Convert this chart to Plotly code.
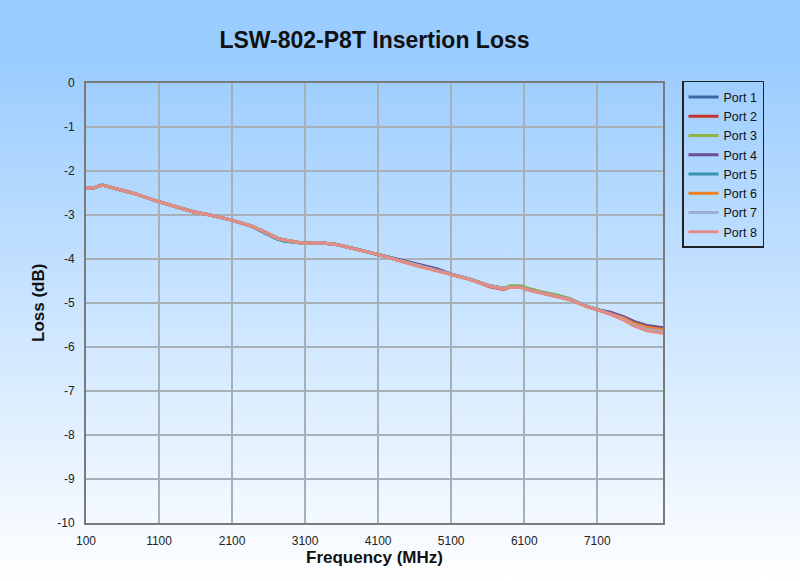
import base64
import plotly.graph_objects as go

# ---- data ----
FREQ = [100, 210, 320, 500, 760, 1100, 1400, 1580, 1800, 2080, 2360, 2540, 2720, 2810,
        3080, 3300, 3530, 3810, 4080, 4360, 4630, 4900, 5130, 5360, 5630, 5820, 5910,
        6050, 6140, 6320, 6550, 6730, 6910, 7100, 7280, 7460, 7600, 7780, 8000]

PORT_1 = [-2.39, -2.38, -2.32, -2.40, -2.51, -2.70, -2.84, -2.93, -3.00, -3.11, -3.25, -3.40, -3.55, -3.59,
          -3.64, -3.63, -3.67, -3.78, -3.89, -4.00, -4.12, -4.23, -4.36, -4.46, -4.61, -4.67, -4.64,
          -4.64, -4.69, -4.76, -4.84, -4.92, -5.05, -5.15, -5.22, -5.32, -5.43, -5.52, -5.57]
PORT_2 = [-2.39, -2.38, -2.32, -2.40, -2.51, -2.70, -2.84, -2.93, -3.00, -3.11, -3.25, -3.38, -3.53, -3.57,
          -3.64, -3.63, -3.67, -3.78, -3.89, -4.02, -4.14, -4.25, -4.36, -4.46, -4.63, -4.69, -4.64,
          -4.64, -4.69, -4.76, -4.84, -4.92, -5.05, -5.15, -5.23, -5.33, -5.45, -5.54, -5.58]
PORT_3 = [-2.39, -2.38, -2.32, -2.40, -2.51, -2.70, -2.84, -2.93, -3.00, -3.11, -3.25, -3.37, -3.52, -3.56,
          -3.64, -3.63, -3.67, -3.78, -3.89, -4.02, -4.14, -4.25, -4.36, -4.46, -4.61, -4.67, -4.61,
          -4.61, -4.66, -4.74, -4.82, -4.90, -5.05, -5.15, -5.23, -5.34, -5.47, -5.56, -5.61]
PORT_4 = [-2.39, -2.38, -2.32, -2.40, -2.51, -2.70, -2.84, -2.93, -3.00, -3.11, -3.25, -3.38, -3.53, -3.57,
          -3.64, -3.63, -3.67, -3.78, -3.89, -3.99, -4.11, -4.22, -4.36, -4.46, -4.61, -4.67, -4.64,
          -4.64, -4.69, -4.76, -4.84, -4.92, -5.05, -5.15, -5.21, -5.31, -5.42, -5.51, -5.56]
PORT_5 = [-2.39, -2.38, -2.32, -2.40, -2.51, -2.70, -2.84, -2.93, -3.00, -3.11, -3.25, -3.40, -3.55, -3.59,
          -3.64, -3.63, -3.67, -3.78, -3.89, -4.02, -4.14, -4.25, -4.36, -4.46, -4.61, -4.67, -4.64,
          -4.64, -4.69, -4.76, -4.84, -4.92, -5.05, -5.15, -5.24, -5.35, -5.48, -5.57, -5.62]
PORT_6 = [-2.39, -2.38, -2.32, -2.40, -2.51, -2.70, -2.84, -2.93, -3.00, -3.11, -3.25, -3.38, -3.53, -3.57,
          -3.64, -3.63, -3.67, -3.78, -3.89, -4.02, -4.14, -4.25, -4.36, -4.46, -4.61, -4.67, -4.64,
          -4.64, -4.69, -4.76, -4.84, -4.92, -5.05, -5.15, -5.23, -5.34, -5.46, -5.55, -5.60]
PORT_7 = [-2.39, -2.38, -2.32, -2.40, -2.51, -2.70, -2.84, -2.93, -3.00, -3.11, -3.25, -3.38, -3.53, -3.57,
          -3.64, -3.63, -3.67, -3.78, -3.89, -4.02, -4.14, -4.25, -4.36, -4.46, -4.61, -4.67, -4.64,
          -4.64, -4.69, -4.76, -4.84, -4.92, -5.05, -5.15, -5.25, -5.37, -5.50, -5.60, -5.65]
PORT_8 = [-2.39, -2.38, -2.32, -2.40, -2.51, -2.70, -2.84, -2.93, -3.00, -3.11, -3.25, -3.38, -3.53, -3.57,
          -3.64, -3.63, -3.67, -3.78, -3.89, -4.03, -4.16, -4.27, -4.37, -4.47, -4.62, -4.68, -4.65,
          -4.65, -4.70, -4.77, -4.85, -4.93, -5.06, -5.16, -5.26, -5.39, -5.52, -5.63, -5.69]

SERIES_NAMES = ["Port 1", "Port 2", "Port 3", "Port 4", "Port 5", "Port 6", "Port 7", "Port 8"]
SERIES_VALUES = [PORT_1, PORT_2, PORT_3, PORT_4, PORT_5, PORT_6, PORT_7, PORT_8]
COLORS = ["#3c67a3", "#c8322c", "#8fb244", "#6b4d96", "#3596ad", "#f07d22", "#98b0d4", "#e38c84"]

X_TICKS = [100, 1100, 2100, 3100, 4100, 5100, 6100, 7100]
Y_TICKS = [0, -1, -2, -3, -4, -5, -6, -7, -8, -9, -10]

# ---- figure ----
FONT = "Liberation Sans, Arial, sans-serif"
fig = go.Figure()
for name, vals, col in zip(SERIES_NAMES, SERIES_VALUES, COLORS):
    fig.add_trace(go.Scatter(x=FREQ, y=vals, name=name, mode="lines",
                             line=dict(color=col, width=3)))

svg = ("<svg xmlns='http://www.w3.org/2000/svg' width='800' height='581' preserveAspectRatio='none'>"
       "<defs><linearGradient id='g' x1='0' y1='0' x2='0' y2='1'>"
       "<stop offset='0' stop-color='#99CCFF'/><stop offset='0.1' stop-color='#9ACCFF'/>"
       "<stop offset='1' stop-color='#FFFFFF'/></linearGradient></defs>"
       "<rect width='800' height='581' fill='url(#g)'/></svg>")
src = "data:image/svg+xml;base64," + base64.b64encode(svg.encode()).decode()

L, R, T, B = 86, 137, 83, 58
PW, PH = 800 - L - R, 581 - T - B

fig.update_layout(
    width=800, height=581,
    margin=dict(l=L, r=R, t=T, b=B),
    paper_bgcolor="white",
    plot_bgcolor="rgba(0,0,0,0)",
    font=dict(family=FONT, size=12, color="#222222"),
    images=[dict(source=src, xref="paper", yref="paper",
                 x=-L / PW, y=1 + T / PH, sizex=800 / PW, sizey=581 / PH,
                 xanchor="left", yanchor="top", sizing="stretch", layer="below")],
    title=dict(text="<b>LSW-802-P8T Insertion Loss</b>", x=0.5, xref="paper",
               y=1 - 40 / 581, yref="container", yanchor="middle",
               font=dict(family=FONT, size=23, color="#111111")),
    showlegend=True,
    legend=dict(x=(682 - L) / PW, y=1.005, xanchor="left", yanchor="top",
                bgcolor="rgba(0,0,0,0)", bordercolor="#222222", borderwidth=1.5,
                font=dict(family=FONT, size=12.5, color="#111111"),
                itemwidth=30, tracegroupgap=0),
    xaxis=dict(range=[100, 8000], tickvals=X_TICKS, ticktext=[str(v) for v in X_TICKS],
               showgrid=True, gridcolor="#a7afb7", gridwidth=2,
               showline=True, linecolor="#7a7a7a", linewidth=2, mirror=True,
               ticks="outside", ticklen=6, tickcolor="rgba(0,0,0,0)",
               zeroline=False),
    yaxis=dict(range=[-10, 0], tickvals=Y_TICKS, ticktext=[str(v) for v in Y_TICKS],
               showgrid=True, gridcolor="#a7afb7", gridwidth=2,
               showline=True, linecolor="#7a7a7a", linewidth=2, mirror=True,
               ticks="outside", ticklen=7, tickcolor="rgba(0,0,0,0)",
               zeroline=False),
    annotations=[
        dict(text="<b>Frequency (MHz)</b>", xref="paper", yref="paper",
             x=0.5, y=(523 - 557) / PH, xanchor="center", yanchor="middle",
             showarrow=False, font=dict(family=FONT, size=17, color="#111111")),
        dict(text="<b>Loss (dB)</b>", xref="paper", yref="paper",
             x=(38 - L) / PW, y=0.5, xanchor="center", yanchor="middle", textangle=-90,
             showarrow=False, font=dict(family=FONT, size=17, color="#111111")),
    ],
)

fig.write_html("out.html")
